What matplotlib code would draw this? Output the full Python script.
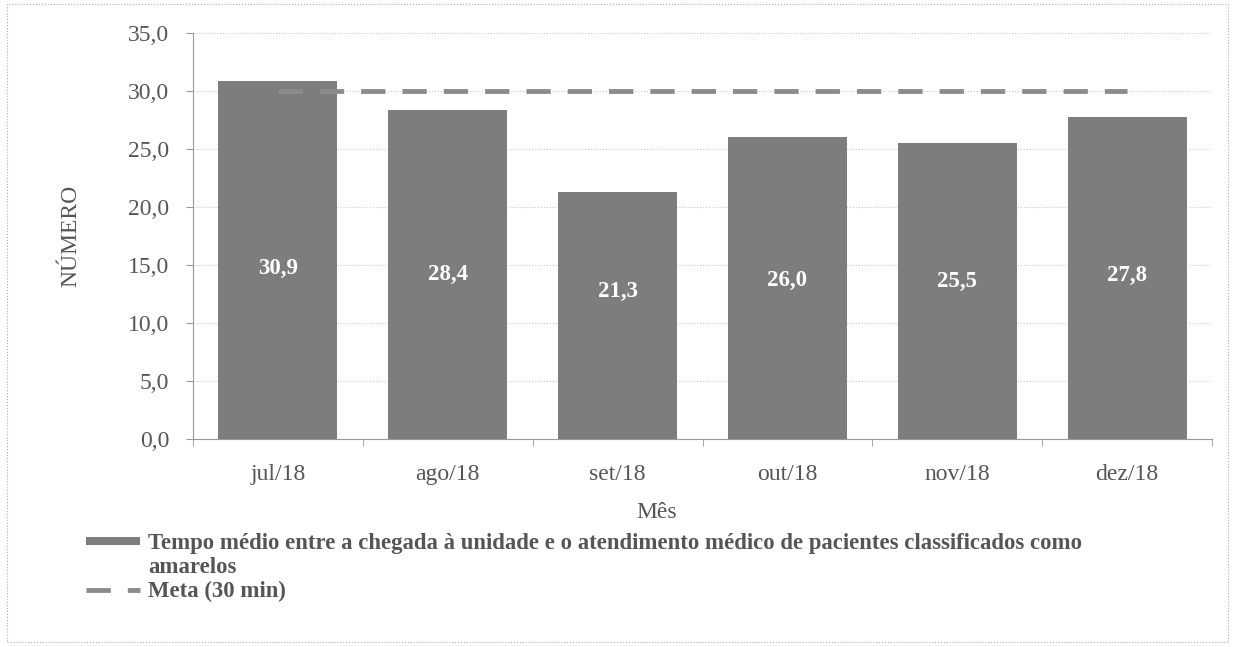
import matplotlib.pyplot as plt
from matplotlib.patches import Rectangle
from matplotlib.legend_handler import HandlerPatch
from matplotlib.ticker import FuncFormatter

# ── Data ──────────────────────────────────────────────────────────────────────
meses  = ["jul/18", "ago/18", "set/18", "out/18", "nov/18", "dez/18"]
tempo  = [30.9, 28.4, 21.3, 26.0, 25.5, 27.8]
meta   = [30, 30, 30, 30, 30, 30]
yticks = [0, 5, 10, 15, 20, 25, 30, 35]

LBL_BARS = ("Tempo médio entre a chegada à unidade e o atendimento médico "
            "de pacientes classificados como\namarelos")
LBL_META = "Meta (30 min)"

plt.rcParams["font.family"] = ["Liberation Serif", "DejaVu Serif"]
GRAY_TXT = "#555555"

fig = plt.figure(figsize=(12.33, 6.47), dpi=100)
ax = fig.add_axes([0.1565, 0.3215, 0.8265, 0.6275])

x = range(len(meses))
bars = ax.bar(x, tempo, width=0.7, color="#7d7d7d", zorder=2)
line, = ax.plot(x, meta, color="#8c8c8c", lw=3.5, dashes=(5, 3.5), zorder=3)

# value labels sit a bit above mid-bar, like the original
for xi, v in zip(x, tempo):
    ax.text(xi, v * 0.2 + 8.5, f"{v:.1f}".replace(".", ","), ha="center", va="center",
            color="white", fontsize=16.5, fontweight="bold", zorder=4)

ax.set_xlim(-0.5, 5.5)
ax.set_ylim(0, 35)
ax.set_yticks(yticks)
ax.yaxis.set_major_formatter(FuncFormatter(lambda v, p: f"{v:.1f}".replace(".", ",")))
ax.set_xticks(x)
ax.set_xticklabels(meses)
ax.set_xticks([i - 0.5 for i in range(len(meses) + 1)], minor=True)
ax.tick_params(axis="x", which="major", length=0, labelsize=17,
               labelcolor=GRAY_TXT, pad=18)
ax.tick_params(axis="x", which="minor", length=5, color="#999999")
ax.tick_params(axis="y", labelsize=17, labelcolor=GRAY_TXT, length=5,
               color="#999999", pad=12)

ax.grid(axis="y", color="#c8c8c8", lw=0.8, ls=":", zorder=0)
for s in ["top", "right"]:
    ax.spines[s].set_visible(False)
ax.spines["left"].set_color("#999999")
ax.spines["bottom"].set_color("#999999")

ax.set_ylabel("NÚMERO", fontsize=17, color=GRAY_TXT, labelpad=34)
ax.set_xlabel("Mês", fontsize=17, color=GRAY_TXT)
ax.xaxis.set_label_coords(0.455, -0.155)


# legend box for the bars sits next to the first text line, thin like the original
def top_patch(legend, orig_handle, xdescent, ydescent, width, height, fontsize):
    return Rectangle((-xdescent, -ydescent + 10.5), width, height)


leg = fig.legend(handles=[bars.patches[0], line], labels=[LBL_BARS, LBL_META],
                 loc="upper left", bbox_to_anchor=(0.062, 0.19), frameon=False,
                 handlelength=2.4, handleheight=0.22, handletextpad=0.35,
                 labelspacing=0.1, borderaxespad=0,
                 handler_map={Rectangle: HandlerPatch(patch_func=top_patch)},
                 prop={"weight": "bold", "size": 16.4})
for t in leg.get_texts():
    t.set_color(GRAY_TXT)

# dotted frame around the whole figure
fig.patches.append(Rectangle((0.006, 0.008), 0.99, 0.986, transform=fig.transFigure,
                             fill=False, ec="#aaaaaa", lw=0.8, ls=":"))

plt.savefig("out.png", dpi=100)
